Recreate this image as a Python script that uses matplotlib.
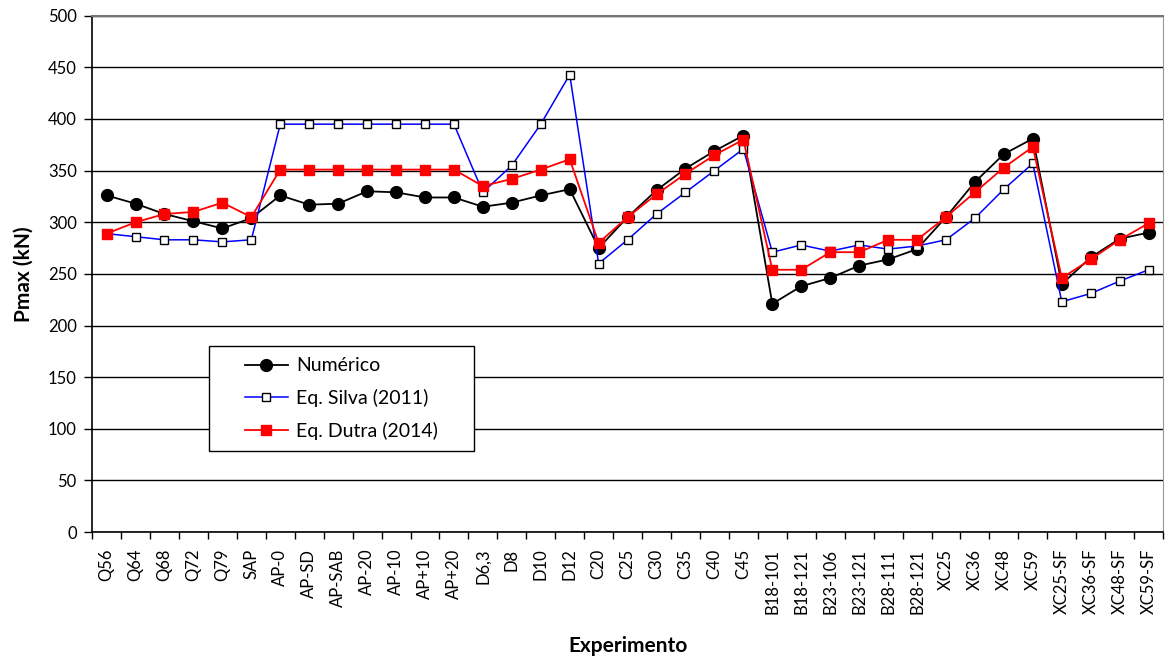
import numpy as np
import matplotlib
matplotlib.use('Agg')
import matplotlib.pyplot as plt
from matplotlib.patches import Rectangle
from matplotlib.ticker import FixedLocator

plt.rcParams['font.family'] = ['Lato', 'DejaVu Sans']

experimentos = ['Q56', 'Q64', 'Q68', 'Q72', 'Q79', 'SAP', 'AP-0', 'AP-SD', 'AP-SAB',
                'AP-20', 'AP-10', 'AP+10', 'AP+20', 'D6,3', 'D8', 'D10', 'D12',
                'C20', 'C25', 'C30', 'C35', 'C40', 'C45',
                'B18-101', 'B18-121', 'B23-106', 'B23-121', 'B28-111', 'B28-121',
                'XC25', 'XC36', 'XC48', 'XC59', 'XC25-SF', 'XC36-SF', 'XC48-SF', 'XC59-SF']

numerico = [326, 318, 308, 301, 294, 304, 326, 317, 318,
            330, 329, 324, 324, 315, 319, 326, 332,
            275, 305, 331, 352, 369, 384,
            221, 238, 246, 258, 264, 274,
            305, 339, 366, 381, 240, 266, 284, 290]

silva = [289, 286, 283, 283, 281, 283, 395, 395, 395,
         395, 395, 395, 395, 329, 355, 395, 443,
         260, 283, 308, 329, 350, 371,
         271, 278, 272, 278, 274, 277,
         283, 304, 332, 357, 223, 231, 243, 254]

dutra = [289, 300, 308, 310, 319, 305, 351, 351, 351,
         351, 351, 351, 351, 335, 342, 351, 361,
         280, 305, 327, 347, 365, 380,
         254, 254, 271, 271, 283, 283,
         305, 329, 353, 373, 246, 264, 283, 299]

x = np.arange(len(experimentos))

fig = plt.figure(figsize=(11.66, 6.56), dpi=100)
ax = fig.add_axes([0.079, 0.189, 0.9185, 0.787])

ax.plot(x, numerico, color='black', lw=1.3, marker='o', ms=8.5,
        mfc='black', mec='black', label='Numérico', zorder=3)
ax.plot(x, silva, color='#0000ff', lw=1.1, marker='s', ms=6,
        mfc='white', mec='black', mew=1.0, label='Eq. Silva (2011)', zorder=4)
ax.plot(x, dutra, color='#ff0000', lw=1.3, marker='s', ms=6.5,
        mfc='#ff0000', mec='#ff0000', label='Eq. Dutra (2014)', zorder=5)

ax.set_xlim(-0.5, len(experimentos) - 0.5)
ax.set_ylim(0, 500)
ax.set_yticks(np.arange(0, 501, 50))
ax.yaxis.grid(True, color='black', lw=1.0)
ax.set_axisbelow(True)

ax.set_xticks(x)
ax.set_xticklabels(experimentos, rotation=90, fontsize=12)
ax.xaxis.set_minor_locator(FixedLocator(np.arange(-0.5, len(experimentos), 1)))
ax.tick_params(axis='x', which='major', length=0, pad=12)
ax.tick_params(axis='x', which='minor', length=5, width=1, direction='out')
ax.tick_params(axis='y', length=6, width=1, direction='out', labelsize=12, pad=5)

ax.spines['top'].set_color('#777777')
ax.spines['top'].set_linewidth(1.5)
ax.spines['right'].set_color('#999999')
ax.spines['left'].set_linewidth(1.2)
ax.spines['bottom'].set_linewidth(1.2)

ax.set_xlabel('Experimento', fontsize=15, fontweight='bold', labelpad=16)
ax.set_ylabel('Pmax (kN)', fontsize=15, fontweight='bold', labelpad=10)

# legend frame drawn as a box, legend entries centred inside it
frame = Rectangle((0.1092, 0.157), 0.2474, 0.2035, transform=ax.transAxes,
                  facecolor='white', edgecolor='black', lw=1.0, zorder=6)
ax.add_patch(frame)
leg = ax.legend(loc='center', bbox_to_anchor=(0.2329, 0.2587), fontsize=14,
                frameon=False, borderpad=0, labelspacing=0.75,
                handlelength=2.2, handletextpad=0.45, borderaxespad=0)
leg.set_zorder(7)

fig.savefig('out.png', dpi=100)
